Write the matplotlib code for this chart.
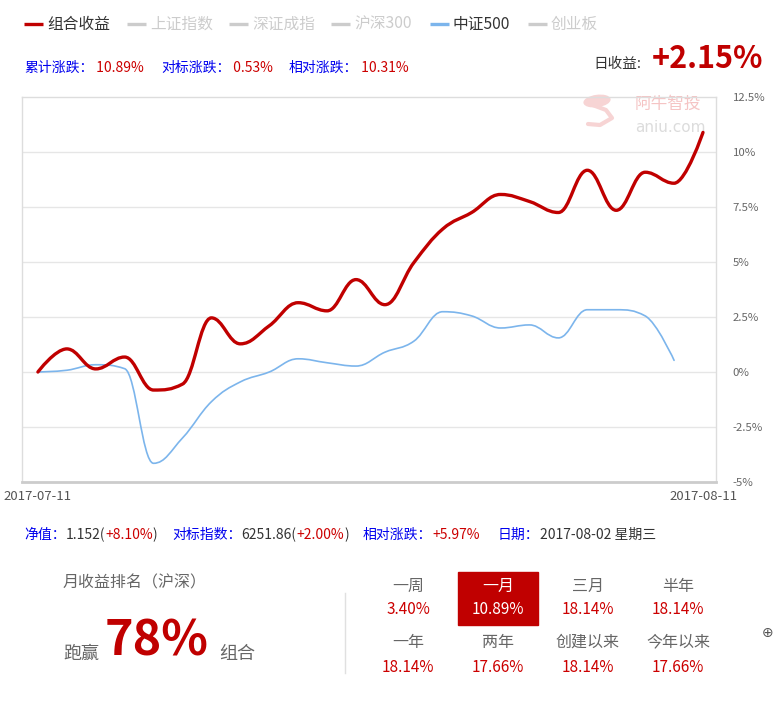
import matplotlib
matplotlib.use("Agg")
import matplotlib.pyplot as plt
from matplotlib.path import Path
from matplotlib.patches import PathPatch, Rectangle, Ellipse

plt.rcParams['font.family'] = ['Noto Sans CJK SC', 'DejaVu Sans']

# 数据
portfolio = [0, 1.05, 0.14, 0.68, -0.82, -0.55, 2.46, 1.28, 2.1, 3.15, 2.78, 4.2,
             3.06, 4.97, 6.5, 7.25, 8.07, 7.75, 7.25, 9.17, 7.35, 9.08, 8.58, 10.89]
csi500 = [0, 0.08, 0.33, 0.15, -4.15, -3.0, -1.35, -0.45, 0.0, 0.6, 0.42, 0.27,
          0.9, 1.4, 2.74, 2.55, 2.0, 2.14, 1.55, 2.83, 2.83, 2.55, 0.53]
date_labels = ['2017-07-11', '2017-08-11']
y_ticks = [-5, -2.5, 0, 2.5, 5, 7.5, 10, 12.5]

legend_names = ['组合收益', '上证指数', '深证成指', '沪深300', '中证500', '创业板']
legend_on = [True, False, False, False, True, False]

summary = [('累计涨跌：', '10.89%'), ('对标涨跌：', '0.53%'), ('相对涨跌：', '10.31%')]
day_return = '+2.15%'

periods = ['一周', '一月', '三月', '半年', '一年', '两年', '创建以来', '今年以来']
period_values = ['3.40%', '10.89%', '18.14%', '18.14%', '18.14%', '17.66%', '18.14%', '17.66%']
rank_pct = '78%'

RED = '#c00000'
BLUE = '#7cb5ec'
TXT_BLUE = '#0000ee'
TXT_RED = '#cc0000'
DARK = '#333333'


def spline_path(ys):
    # 平滑曲线（贝塞尔控制点），与 Highcharts spline 类似
    n = len(ys)
    xs = list(range(n))
    sm = 1.5
    lc = [(xs[i], ys[i]) for i in range(n)]
    rc = [(xs[i], ys[i]) for i in range(n)]
    for i in range(1, n - 1):
        x, y = xs[i], ys[i]
        lx = (sm * x + xs[i - 1]) / (sm + 1)
        ly = (sm * y + ys[i - 1]) / (sm + 1)
        rx = (sm * x + xs[i + 1]) / (sm + 1)
        ry = (sm * y + ys[i + 1]) / (sm + 1)
        corr = (ry - ly) * (rx - x) / (rx - lx) + y - ry
        ly += corr
        ry += corr
        if ly > ys[i - 1] and ly > y:
            ly = max(ys[i - 1], y); ry = 2 * y - ly
        elif ly < ys[i - 1] and ly < y:
            ly = min(ys[i - 1], y); ry = 2 * y - ly
        if ry > ys[i + 1] and ry > y:
            ry = max(ys[i + 1], y); ly = 2 * y - ry
        elif ry < ys[i + 1] and ry < y:
            ry = min(ys[i + 1], y); ly = 2 * y - ry
        lc[i] = (lx, ly)
        rc[i] = (rx, ry)
    verts = [(xs[0], ys[0])]
    codes = [Path.MOVETO]
    for i in range(1, n):
        verts += [rc[i - 1], lc[i], (xs[i], ys[i])]
        codes += [Path.CURVE4] * 3
    return Path(verts, codes)


fig = plt.figure(figsize=(7.74, 7.06), dpi=100)

# 背景层，坐标为像素
bg = fig.add_axes([0, 0, 1, 1], zorder=0)
bg.set_xlim(0, 774)
bg.set_ylim(706, 0)
bg.axis('off')

# 主图
ax = fig.add_axes([22 / 774, 1 - 482 / 706, 694 / 774, 385 / 706], zorder=1)
ax.set_facecolor('none')
ax.set_xlim(-0.55, len(portfolio) - 1 + 0.45)
ax.set_ylim(-5, 12.5)
ax.set_yticks(y_ticks)
ax.set_yticklabels([f'{v:g}%' for v in y_ticks])
ax.yaxis.tick_right()
ax.set_xticks([0, len(portfolio) - 1])
ax.set_xticklabels(date_labels)
ax.tick_params(axis='y', length=0, pad=12, labelsize=8.2, labelcolor='#666666')
ax.tick_params(axis='x', length=0, pad=6, labelsize=9.5, labelcolor='#555555')
for v in y_ticks[1:-1]:
    ax.axhline(v, color='#e6e6e6', lw=1, zorder=1)
for s in ax.spines.values():
    s.set_color('#dddddd')
    s.set_linewidth(1)
ax.spines['bottom'].set_color('#cccccc')
ax.spines['bottom'].set_linewidth(2)

ax.add_patch(PathPatch(spline_path(csi500), fill=False, edgecolor=BLUE, lw=1.2,
                       capstyle='round', joinstyle='round', zorder=3))
ax.add_patch(PathPatch(spline_path(portfolio), fill=False, edgecolor=RED, lw=2.4,
                       capstyle='round', joinstyle='round', zorder=4))

# 水印
bg.add_patch(Ellipse((597, 101), 26, 11, angle=-8, color='#f7d4d4'))
bg.plot([590, 606, 612, 600, 588], [104, 110, 118, 125, 124], color='#f7d4d4', lw=3,
        solid_capstyle='round')
bg.text(668, 104, '阿牛智投', fontsize=12, color='#f5c4c4', ha='center', va='center')
bg.text(670, 127, 'aniu.com', fontsize=11, color='#dcdcdc', ha='center', va='center',
        family=['DejaVu Sans'])

# 图例
leg_x = [24, 127, 229, 331, 430, 528]
for x, name, on in zip(leg_x, legend_names, legend_on):
    if name == '组合收益':
        col = RED
    elif name == '中证500':
        col = BLUE
    else:
        col = '#cccccc'
    bg.plot([x, x + 19], [24, 24], color=col, lw=2.4, solid_capstyle='butt')
    bg.text(x + 23, 24, name, fontsize=11.3, color=DARK if on else '#cccccc',
            ha='left', va='center')


def chain(parts, x, y, size):
    t = bg.text(x, y, parts[0][0], color=parts[0][1], fontsize=size, ha='left', va='center')
    for s, c in parts[1:]:
        t = bg.annotate(s, xy=(1, 0), xycoords=t, color=c, fontsize=size,
                        ha='left', va='bottom')
    return t


# 涨跌汇总
for x, (lab, val) in zip([24, 161, 289], summary):
    chain([(lab, TXT_BLUE), (' ' + val, TXT_RED)], x, 68, 10)

bg.text(593, 64, '日收益:', fontsize=10.5, color=DARK, ha='left', va='center')
bg.text(652, 59, day_return, fontsize=22, color=RED, fontweight='bold', ha='left', va='center')

# 详情行
chain([('净值：', TXT_BLUE), ('1.152(', DARK), ('+8.10%', TXT_RED), (')', DARK)], 24, 535, 10)
chain([('对标指数：', TXT_BLUE), ('6251.86(', DARK), ('+2.00%', TXT_RED), (')', DARK)], 172, 535, 10)
chain([('相对涨跌：', TXT_BLUE), ('+5.97%', TXT_RED)], 363, 535, 10)
chain([('日期：', TXT_BLUE), ('2017-08-02 星期三', DARK)], 498, 535, 10)

# 月收益排名
bg.text(63, 583, '月收益排名（沪深）', fontsize=11.5, color='#666666', ha='left', va='center')
bg.text(63, 654, '跑赢', fontsize=13, color='#666666', ha='left', va='center')
bg.text(105, 641, rank_pct, fontsize=35, color=RED, fontweight='bold', ha='left', va='center')
bg.text(219, 654, '组合', fontsize=13, color='#666666', ha='left', va='center')
bg.plot([345, 345], [593, 673], color='#e0e0e0', lw=1)

col_x = [408, 498, 588, 678]
for i, (name, val) in enumerate(zip(periods, period_values)):
    cx = col_x[i % 4]
    ly = 586 if i < 4 else 642
    vy = 610 if i < 4 else 667
    if name == '一月':
        bg.add_patch(Rectangle((458, 572), 80, 53, color=RED, zorder=1))
        lc, vc = 'white', 'white'
    else:
        lc, vc = '#666666', TXT_RED
    bg.text(cx, ly, name, fontsize=11.5, color=lc, ha='center', va='center', zorder=2)
    bg.text(cx, vy, val, fontsize=11, color=vc, ha='center', va='center', zorder=2)

bg.text(762, 633, '⊕', fontsize=10, color='#555555', ha='left', va='center',
        family=['DejaVu Sans'])

fig.savefig('out.png', dpi=100)
